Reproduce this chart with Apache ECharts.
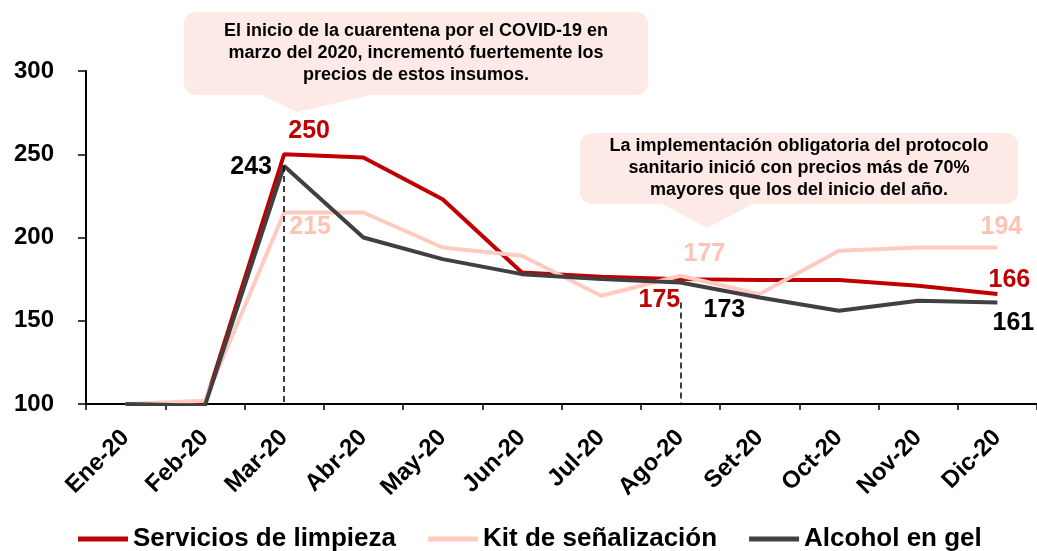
<!DOCTYPE html>
<html>
<head>
<meta charset="utf-8">
<script src="https://cdn.jsdelivr.net/npm/echarts@6/dist/echarts.min.js"></script>
<style>
  html, body { margin: 0; padding: 0; background: #fff; }
  #chart { width: 1037px; height: 551px; }
</style>
</head>
<body>
<div id="chart"></div>
<script>
const months = ["Ene-20", "Feb-20", "Mar-20", "Abr-20", "May-20", "Jun-20",
                "Jul-20", "Ago-20", "Set-20", "Oct-20", "Nov-20", "Dic-20"];
const limpieza = [100, 100, 250, 248, 223, 179, 176.5, 175, 174.5, 174.5, 171, 166];
const kit = [100, 102, 215, 215, 194, 189, 165, 177, 166, 192, 194, 194];
const alcohol = [100, 99, 243, 200, 187, 178, 175, 173, 164, 156, 162, 161];
const yTicks = { min: 100, max: 300, step: 50 };

const FONT = "Arial, 'Liberation Sans', sans-serif";
const RED = "#C00000", PINK = "#FFCBC0", DARK = "#404040";

// which points get a value label, and where (offset of label centre from point)
const labelSpots = {
  limpieza: { 2: [25, -23], 7: [-21, 21], 11: [12, -14] },
  kit:      { 2: [26, 15], 7: [24, -22], 11: [4, -20] },
  alcohol:  { 2: [-33, 1], 7: [44, 28], 11: [16, 21] }
};

function withLabels(values, spots, color) {
  return values.map((v, i) => {
    if (!spots[i]) return v;
    return {
      value: v,
      label: {
        show: true, position: "inside", offset: spots[i],
        formatter: () => Math.round(v),
        color: color, fontSize: 25, fontWeight: "bold", fontFamily: FONT
      }
    };
  });
}

function lineSeries(name, values, color, labelColor, spots, extra) {
  return Object.assign({
    name: name,
    type: "line",
    data: withLabels(values, spots, labelColor),
    symbol: "circle",
    symbolSize: 0,
    showSymbol: true,
    itemStyle: { color: color },
    lineStyle: { color: color, width: 4 },
    emphasis: { disabled: true }
  }, extra || {});
}

const chart = echarts.init(document.getElementById("chart"));

const calloutFill = "#FDE9E6";
const boxText = {
  fontFamily: FONT, fontSize: 18, fontWeight: "bold", fill: "#000",
  align: "center", verticalAlign: "middle", lineHeight: 22
};

chart.setOption({
  animation: false,
  textStyle: { fontFamily: FONT },
  grid: { left: 86, right: 0, top: 71, bottom: 147 },
  xAxis: {
    type: "category",
    data: months,
    boundaryGap: true,
    axisLine: { lineStyle: { color: "#000", width: 2 } },
    axisTick: { show: true, length: 6, lineStyle: { color: "#000", width: 1.5 } },
    axisLabel: {
      rotate: 45, interval: 0, margin: 30,
      color: "#000", fontSize: 24, fontWeight: "bold", fontFamily: FONT
    }
  },
  yAxis: {
    type: "value",
    min: yTicks.min, max: yTicks.max, interval: yTicks.step,
    splitLine: { show: false },
    axisLine: { show: true, lineStyle: { color: "#000", width: 2 } },
    axisTick: { show: true, length: 8, lineStyle: { color: "#000", width: 1.5 } },
    axisLabel: { color: "#000", fontSize: 24, fontWeight: "bold", fontFamily: FONT, margin: 32 }
  },
  legend: {
    left: 73, top: 521,
    icon: "rect", itemWidth: 50, itemHeight: 5, itemGap: 32,
    textStyle: { color: "#000", fontSize: 26, fontWeight: "bold", fontFamily: FONT },
    data: ["Servicios de limpieza", "Kit de señalización", "Alcohol en gel"]
  },
  series: [
    lineSeries("Servicios de limpieza", limpieza, RED, RED, labelSpots.limpieza, {
      markLine: {
        silent: true, symbol: "none", label: { show: false },
        lineStyle: { color: "#000", type: [6, 4], width: 1.5 },
        data: [
          [{ coord: [months[2], alcohol[2]] }, { coord: [months[2], yTicks.min] }],
          [{ coord: [months[7], 161] }, { coord: [months[7], yTicks.min] }]
        ]
      }
    }),
    lineSeries("Kit de señalización", kit, PINK, "#FFC2B5", labelSpots.kit),
    lineSeries("Alcohol en gel", alcohol, DARK, "#000", labelSpots.alcohol)
  ],
  graphic: [
    { type: "polygon", shape: { points: [[255, 92], [385, 92], [297, 112]] }, style: { fill: calloutFill } },
    { type: "rect", shape: { x: 184, y: 12, width: 464, height: 83, r: 12 }, style: { fill: calloutFill } },
    { type: "text", x: 416, y: 53, style: Object.assign({
        text: "El inicio de la cuarentena por el COVID-19 en\nmarzo del 2020, incrementó fuertemente los\nprecios de estos insumos." }, boxText) },
    { type: "polygon", shape: { points: [[655, 200], [760, 200], [707, 228]] }, style: { fill: calloutFill } },
    { type: "rect", shape: { x: 580, y: 133, width: 438, height: 71, r: 12 }, style: { fill: calloutFill } },
    { type: "text", x: 799, y: 168, style: Object.assign({
        text: "La implementación obligatoria del protocolo\nsanitario inició con precios más de 70%\nmayores que los del inicio del año." }, boxText) }
  ]
});
</script>
</body>
</html>
